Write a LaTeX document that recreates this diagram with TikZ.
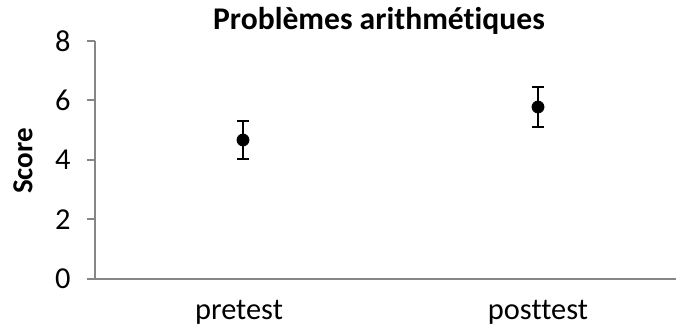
\documentclass[tikz,border=0pt]{standalone}
\usepackage{fontspec}
\setmainfont[Ligatures={NoCommon}]{Carlito}
\usepackage{tikz}
\usepackage{color}

\definecolor{axisgray}{RGB}{134,134,134}

\begin{document}
\begin{tikzpicture}[%
      x=0.5pt, y=-0.5pt,
      ]
      \useasboundingbox (0,0) rectangle (676,331);
      \draw [color=axisgray, line width=1pt] (95,41) -- (95,279) -- (676,279);
      \foreach \v in {0,2,4,6,8} {
        \draw [color=axisgray, line width=1pt] (87,279-29.75*\v) -- (95,279-29.75*\v);
        \node [anchor=east, inner sep=0pt, font=\fontsize{15.2}{18}\selectfont] (tick\v) at (71,279-29.75*\v) {\v};
      }
      
      \node [font=\fontsize{15.8}{19}\selectfont\bfseries] (title) at (379,21) {Problèmes arithmétiques};
      \node [rotate=90, font=\fontsize{14.5}{17}\selectfont\bfseries] (score) at (23,161) {Score};
      \node [font=\fontsize{15.2}{18}\selectfont] (pre) at (239,312) {pretest};
      \node [font=\fontsize{15.2}{18}\selectfont] (post) at (538,312) {posttest};
      
      \draw [color=black, line width=0.8pt] (243,121) -- (243,159);
      \draw [color=black, line width=0.8pt] (237,121) -- (249,121);
      \draw [color=black, line width=0.8pt] (237,159) -- (249,159);
      \draw [color=black, line width=0.8pt] (538,87) -- (538,127);
      \draw [color=black, line width=0.8pt] (532,87) -- (544,87);
      \draw [color=black, line width=0.8pt] (532,127) -- (544,127);
      
      \filldraw [color=black] (243,140) circle (3pt);
      \filldraw [color=black] (538,107) circle (3pt);
      \end{tikzpicture}
\end{document}
